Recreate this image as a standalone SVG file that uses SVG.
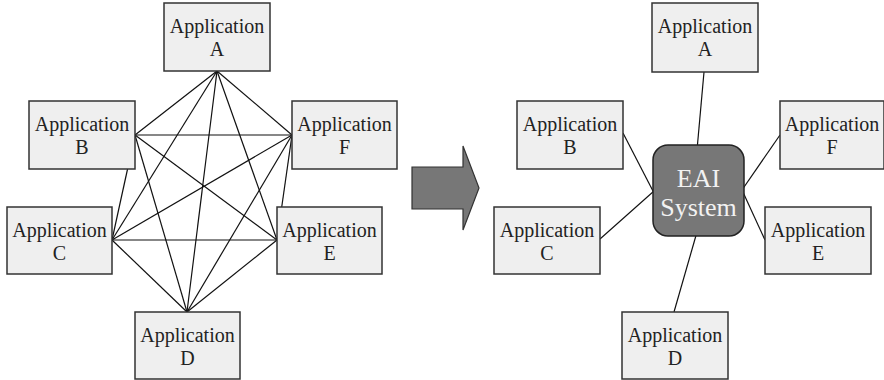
<svg xmlns="http://www.w3.org/2000/svg" width="884" height="380" viewBox="0 0 884 380">
<style>
.box{fill:#efefef;stroke:#333;stroke-width:1.5}
.lbl{font-family:"Liberation Serif","Times New Roman",serif;font-size:20px;fill:#222;text-anchor:middle}
.ln{stroke:#111;stroke-width:1.2;fill:none}
.eai{font-family:"Liberation Serif","Times New Roman",serif;font-size:26px;fill:#f2f2f2;text-anchor:middle}
</style>
<rect width="884" height="380" fill="#fff"/>
<g id="connectors-left">
<line class="ln" x1="217" y1="71" x2="135" y2="135"/>
<line class="ln" x1="217" y1="71" x2="292" y2="135"/>
<line class="ln" x1="217" y1="71" x2="112" y2="240"/>
<line class="ln" x1="217" y1="71" x2="277" y2="240"/>
<line class="ln" x1="217" y1="71" x2="187" y2="312"/>
<line class="ln" x1="135" y1="135" x2="292" y2="135"/>
<line class="ln" x1="135" y1="135" x2="112" y2="240"/>
<line class="ln" x1="135" y1="135" x2="277" y2="240"/>
<line class="ln" x1="135" y1="135" x2="187" y2="312"/>
<line class="ln" x1="292" y1="135" x2="112" y2="240"/>
<line class="ln" x1="292" y1="135" x2="277" y2="240"/>
<line class="ln" x1="292" y1="135" x2="187" y2="312"/>
<line class="ln" x1="112" y1="240" x2="277" y2="240"/>
<line class="ln" x1="112" y1="240" x2="187" y2="312"/>
<line class="ln" x1="277" y1="240" x2="187" y2="312"/>
</g>
<g id="connectors-right">
<line class="ln" x1="704" y1="72" x2="697" y2="150"/>
<line class="ln" x1="623" y1="133" x2="654" y2="193"/>
<line class="ln" x1="600" y1="239" x2="654" y2="191"/>
<line class="ln" x1="780" y1="135" x2="742" y2="190"/>
<line class="ln" x1="765" y1="240" x2="742" y2="190"/>
<line class="ln" x1="697" y1="232" x2="674" y2="312"/>
</g>
<g id="L-A"><rect class="box" x="164" y="3" width="106" height="68"/><text class="lbl" x="217" y="33">Application</text><text class="lbl" x="217" y="56">A</text></g>
<g id="L-B"><rect class="box" x="29" y="101" width="106" height="68"/><text class="lbl" x="82" y="131">Application</text><text class="lbl" x="82" y="154">B</text></g>
<g id="L-F"><rect class="box" x="292" y="101" width="105" height="68"/><text class="lbl" x="344.5" y="131">Application</text><text class="lbl" x="344.5" y="154">F</text></g>
<g id="L-C"><rect class="box" x="7" y="207" width="105" height="67"/><text class="lbl" x="59.5" y="237">Application</text><text class="lbl" x="59.5" y="260">C</text></g>
<g id="L-E"><rect class="box" x="277" y="207" width="105" height="67"/><text class="lbl" x="329.5" y="237">Application</text><text class="lbl" x="329.5" y="260">E</text></g>
<g id="L-D"><rect class="box" x="135" y="312" width="105" height="67"/><text class="lbl" x="187.5" y="342">Application</text><text class="lbl" x="187.5" y="365">D</text></g>
<g id="arrow"><polygon points="412,167 463,167 463,146 479,188 463,230 463,209 412,209" fill="#777" stroke="#333" stroke-width="1.2"/></g>
<g id="R-A"><rect class="box" x="652" y="3" width="106" height="69"/><text class="lbl" x="705" y="33">Application</text><text class="lbl" x="705" y="56">A</text></g>
<g id="R-B"><rect class="box" x="517" y="101" width="106" height="68"/><text class="lbl" x="570" y="131">Application</text><text class="lbl" x="570" y="154">B</text></g>
<g id="R-F"><rect class="box" x="780" y="101" width="104" height="68"/><text class="lbl" x="832" y="131">Application</text><text class="lbl" x="832" y="154">F</text></g>
<g id="R-C"><rect class="box" x="494" y="207" width="106" height="67"/><text class="lbl" x="547" y="237">Application</text><text class="lbl" x="547" y="260">C</text></g>
<g id="R-E"><rect class="box" x="765" y="207" width="106" height="67"/><text class="lbl" x="818" y="237">Application</text><text class="lbl" x="818" y="260">E</text></g>
<g id="R-D"><rect class="box" x="622" y="312" width="106" height="67"/><text class="lbl" x="675" y="342">Application</text><text class="lbl" x="675" y="365">D</text></g>
<g id="EAI"><rect x="653" y="145" width="91" height="91" rx="15" ry="15" fill="#777" stroke="#222" stroke-width="1.5"/><text class="eai" x="698.5" y="187">EAI</text><text class="eai" x="698.5" y="216">System</text></g>
</svg>
